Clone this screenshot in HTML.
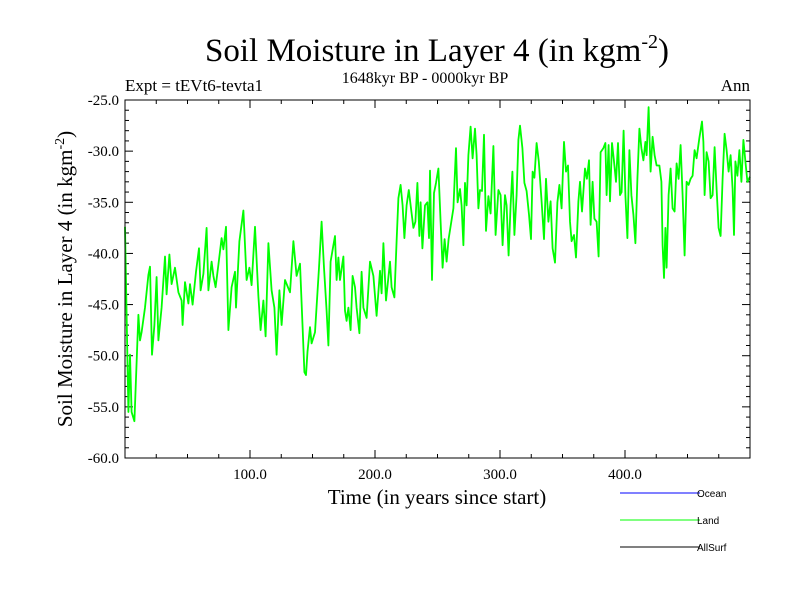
<!DOCTYPE html>
<html><head><meta charset="utf-8"><style>
body{margin:0;background:#fff}
svg{display:block;font-family:"Liberation Serif",serif}
</style></head><body>
<svg width="800" height="600" viewBox="0 0 800 600">
<text x="437" y="61" font-size="33" text-anchor="middle">Soil Moisture in Layer 4 (in kgm<tspan dy="-13" font-size="20">-2</tspan><tspan dy="13">)</tspan></text>
<text x="125" y="91" font-size="17">Expt = tEVt6-tevta1</text>
<text x="425" y="83" font-size="16" text-anchor="middle">1648kyr BP - 0000kyr BP</text>
<text x="750" y="91" font-size="17" text-anchor="end">Ann</text>
<g id="axes"></g>
<path id="land" fill="none" stroke="#00ff00" stroke-width="1.8" stroke-linejoin="round"/>
<rect x="125" y="100" width="625" height="358" fill="none" stroke="#000" stroke-width="1"/>
<text x="437" y="504" font-size="21" text-anchor="middle">Time (in years since start)</text>
<text transform="translate(72,279) rotate(-90)" font-size="21" text-anchor="middle">Soil Moisture in Layer 4 (in kgm<tspan dy="-8" font-size="14">-2</tspan><tspan dy="8">)</tspan></text>
<g font-family="Liberation Sans,sans-serif" font-size="10">
<line x1="620" y1="493" x2="700" y2="493" stroke="#0000ff"/>
<text x="697" y="497">Ocean</text>
<line x1="620" y1="520" x2="700" y2="520" stroke="#00ff00"/>
<text x="697" y="524">Land</text>
<line x1="620" y1="547" x2="700" y2="547" stroke="#000"/>
<text x="697" y="551">AllSurf</text>
</g>
</svg>
<script>
const years=[0,2.7,4,5.3,7.5,10.7,12,13.3,16,18.7,20,21.6,23.5,25.3,26.7,29.3,32,33.3,35.5,37.3,40,42.7,45.3,46.1,48,50.7,52,54.1,56.8,59.2,60.5,62.7,65.3,66.7,69.3,70.7,72.5,74.7,77.3,78.7,80.8,82.7,85.3,88,88.8,91.5,94.7,97.3,99.5,101.3,104,106.7,108.5,110.7,112.5,114.7,117.3,119.5,121.3,123.5,125.3,128,132,134.7,137.3,140,142.1,143.5,144.8,146,148,149.3,152,155.2,157.3,159.2,161.3,162.7,164.5,166.7,168,169.3,170.7,172,174.7,176,177.3,178.7,180.5,182.1,184,185.3,187.5,189.3,190.7,193.3,196,198.7,201.3,204,205.3,206.7,208.8,212,213.3,215.5,217.3,218.7,220.5,222.1,223.5,225.3,227,228.8,230.7,232.3,233.9,235.5,236.5,237.9,240,241.9,243.2,244,245.6,247.2,248.8,250.7,252.5,254.1,255.7,257.3,258.9,262.7,264.8,266.1,268,269.3,270.7,272,273.3,274.7,276.5,278.1,280,281.3,282.7,284,285.6,287.2,288.8,290.7,292.5,294.7,296.5,298.7,300.5,302.1,304,305.3,306.9,308.5,309.9,311.5,313.3,314.7,316,317.9,319.5,321.3,323.2,324.8,326.1,327.5,329.3,331,333.3,335.2,336.8,338.7,340.5,342.1,344,345.9,347.5,349.3,351.2,352.8,354.4,356,357.3,359.2,360.8,362.7,364,365.6,368,369.5,371.2,372.5,374.1,375.5,377.3,378.9,380.5,382.7,384.3,385.3,386.9,388,389.6,391.2,392.8,394.4,396,397.3,398.9,400.3,401.9,403.5,405.1,406.7,408.3,409.9,411.5,413.1,414.7,416.3,417.3,418.9,420.5,422.1,423.7,425.3,427.5,429.1,430.1,431.2,432.3,433.3,434.9,436.5,438.1,439.7,441.3,442.9,444.5,446.1,447.7,449.3,450.9,452.5,454.1,455.7,457.3,459.5,461.6,462.7,463.7,465.3,466.9,468.5,470.1,471.7,473.3,474.9,476.5,478.1,479.7,481.3,482.9,484.5,486.1,487.2,488.3,489.9,491.5,493.1,494.7,496.3,497.9,500];
const landValues=[-37.4,-55.5,-49.9,-55.5,-56.4,-46,-48.5,-47.7,-45.3,-42.1,-41.3,-49.9,-47,-42.3,-48.5,-45.3,-40.3,-44,-40.1,-43,-41.4,-43.8,-44.6,-47,-42.8,-44.9,-43,-45,-41.8,-39.5,-43.6,-42,-37.5,-43.6,-40.8,-42.2,-43.3,-41.1,-38.5,-39.6,-37.4,-47.5,-43.3,-41.8,-45.3,-38.8,-35.8,-42.6,-41.4,-43.1,-37.4,-44.2,-47.5,-44.6,-48.1,-39,-43.6,-45.3,-49.9,-43.6,-47,-42.6,-43.8,-38.8,-42.2,-41,-47.2,-51.6,-51.9,-49.6,-47.2,-48.8,-47.7,-41.4,-36.9,-41.4,-45.6,-49,-40.8,-39.2,-38.3,-42.6,-40.4,-42.6,-40.3,-45.6,-46.6,-45.3,-47.5,-42.2,-43.3,-45.3,-47.8,-41.8,-45.3,-46.3,-40.8,-42.2,-46.1,-41.7,-43.9,-39,-44.6,-40.8,-43.3,-44.3,-38.8,-34.6,-33.3,-35.3,-38.5,-35.3,-33.8,-35.6,-37.5,-36.9,-33.1,-38.3,-35,-39.5,-35.3,-35,-38.5,-31.9,-42.6,-34.1,-33.1,-31.7,-36.9,-41.4,-38.6,-40.8,-38.6,-35.6,-29.7,-35,-33.7,-35.3,-39.2,-33.1,-35.3,-30.4,-27.6,-30.7,-27.8,-30.4,-35.6,-33.8,-33.9,-28.4,-37.8,-34.4,-36.1,-29.5,-38.2,-33.8,-34.3,-39.2,-34.3,-35.3,-40.2,-35.3,-32,-38.2,-34.3,-28.9,-27.5,-29.7,-33.1,-33.9,-36.2,-38.6,-32,-32.6,-29.2,-31,-34.9,-38.6,-32.7,-36.9,-34.9,-39.5,-40.9,-35,-33.3,-35.6,-29.1,-32,-31.4,-36.9,-38.8,-38.2,-40.4,-34.9,-33,-35.9,-31.7,-32.7,-30.9,-37.2,-33,-36.6,-36.9,-40.3,-30.1,-29.7,-29.2,-34.3,-29.4,-34.9,-29.2,-31,-33,-29.2,-34.3,-34,-28,-34.3,-38.5,-29.9,-34.3,-36.2,-39,-32.7,-27.8,-29.7,-30.9,-29.1,-30.4,-25.7,-32,-28.6,-30.4,-31.4,-31.4,-33,-39.2,-42.4,-37.5,-41.4,-34.3,-31.7,-35.6,-35.9,-31.2,-32.7,-29.4,-34.3,-40.2,-33,-33.3,-32.7,-32.4,-29.9,-30.7,-28.7,-27.1,-29.1,-34.3,-30.1,-31,-34.6,-34.3,-29.6,-33.7,-37.5,-38.3,-32.7,-28.3,-29.9,-32,-30.4,-33.7,-38.2,-31,-32.4,-29.9,-33,-28.9,-31,-33,-32.5];
const xTickValues=[100,200,300,400];
const xTickLabels=["100.0","200.0","300.0","400.0"];
const yTickValues=[-25,-30,-35,-40,-45,-50,-55,-60];
const yTickLabels=["-25.0","-30.0","-35.0","-40.0","-45.0","-50.0","-55.0","-60.0"];
const L=125,R=750,T=100,B=458,X0=0,X1=500,Y0=-60,Y1=-25;
const sx=v=>L+(v-X0)/(X1-X0)*(R-L);
const sy=v=>B-(v-Y0)/(Y1-Y0)*(B-T);
const NS="http://www.w3.org/2000/svg";
const ax=document.getElementById('axes');
function ln(x1,y1,x2,y2,name){const l=document.createElementNS(NS,'line');l.setAttribute('x1',x1);l.setAttribute('y1',y1);l.setAttribute('x2',x2);l.setAttribute('y2',y2);l.setAttribute('stroke','#000');


ax.appendChild(l);}
function tx(x,y,s,anchor,name){const t=document.createElementNS(NS,'text');t.setAttribute('x',x);t.setAttribute('y',y);t.setAttribute('font-size','15');t.setAttribute('text-anchor',anchor);t.textContent=s;


ax.appendChild(t);}
for(let v=25;v<500;v+=25){const big=v%100===0;const len=big?8:4;const x=sx(v);ln(x,B,x,B-len,'x-tick');ln(x,T,x,T+len,'x-tick-top');}
for(let v=-59;v<-25;v++){const big=v%5===0;const len=big?8:4;const y=sy(v);ln(L,y,L+len,y,'y-tick');ln(R,y,R-len,y,'y-tick-right');}
xTickValues.forEach((v,i)=>tx(sx(v),B+21,xTickLabels[i],'middle','x-tick-label'));
yTickValues.forEach((v,i)=>tx(L-6,sy(v)+5,yTickLabels[i],'end','y-tick-label'));
document.getElementById('land').setAttribute('d',years.map((y,i)=>(i?'L':'M')+sx(y).toFixed(1)+','+sy(landValues[i]).toFixed(1)).join(''));
</script>
</body></html>
